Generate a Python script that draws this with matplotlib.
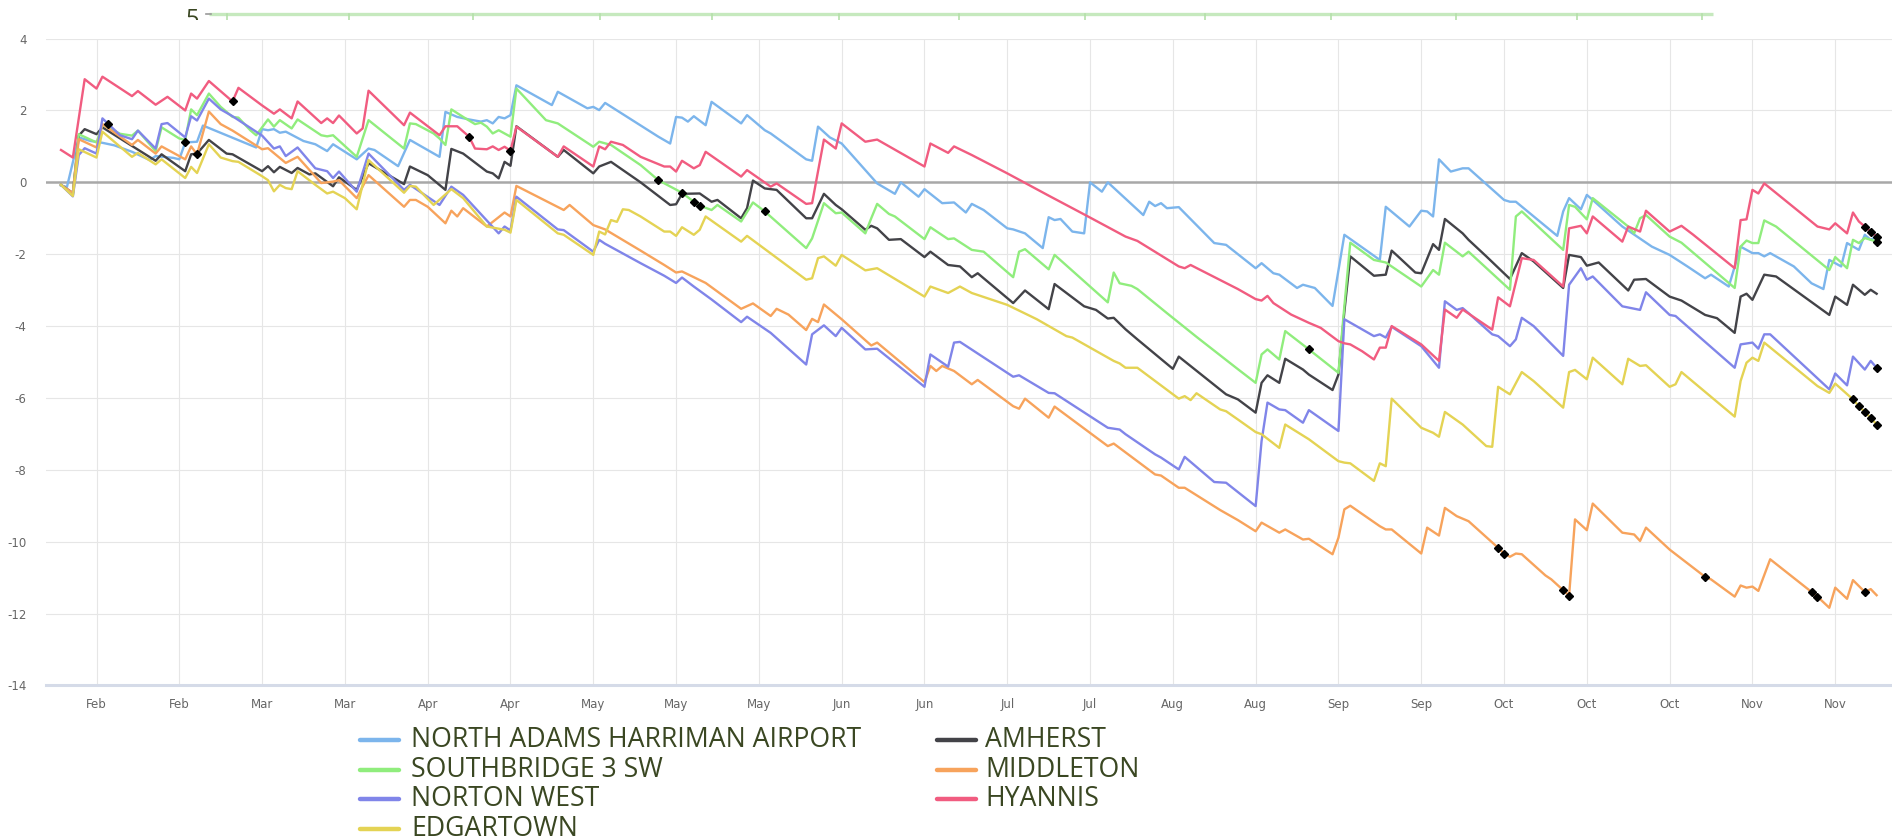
import numpy as np
import matplotlib
matplotlib.use('Agg')
import matplotlib.pyplot as plt
import matplotlib.dates as mdates
from matplotlib.lines import Line2D
import datetime as dt

# ---------------- data (day offset from 2022-02-01, value) ----------------
START = dt.datetime(2022, 2, 1)

series_names = ["NORTH ADAMS HARRIMAN AIRPORT", "AMHERST", "SOUTHBRIDGE 3 SW",
                "MIDDLETON", "NORTON WEST", "HYANNIS", "EDGARTOWN"]
series_colors = ["#7cb5ec", "#434348", "#90ed7d", "#f7a35c", "#8085e9", "#f15c80", "#e4d354"]

na_days = [0, 1, 3, 5, 7, 9, 12, 15, 16, 19, 20, 21, 23, 24, 28, 33, 34, 35, 36, 37, 38, 41, 43, 45, 46, 50, 52, 53, 57, 59,
           64, 65, 67, 69, 71, 72, 73, 74, 75, 76, 77, 83, 84, 89, 90, 91, 92, 101, 103, 104, 105, 106, 107, 109, 110, 115,
           116, 119, 120, 126, 127, 128, 130, 132, 138, 141, 142, 145, 146, 149, 151, 153, 154, 156, 160, 161, 163, 166, 167,
           168, 169, 171, 173, 174, 176, 177, 183, 184, 185, 186, 187, 189, 195, 197, 199, 202, 203, 205, 206, 209, 210, 212,
           215, 217, 223, 224, 228, 230, 231, 232, 233, 235, 237, 238, 244, 245, 246, 253, 254, 255, 257, 258, 259, 264, 269,
           272, 275, 278, 279, 282, 284, 286, 287, 288, 289, 293, 296, 298, 299, 300, 301, 302, 304, 305, 306, 307]
na_vals = [-0.09, -0.13, 1.25, 1.15, 1.1, 1.03, 0.85, 0.62, 0.73, 0.68, 0.64, 1.11, 1.13, 1.58, 1.31, 0.97, 1.48, 1.45,
           1.48, 1.38, 1.41, 1.15, 1.06, 0.87, 1.06, 0.64, 0.94, 0.9, 0.45, 1.18, 0.71, 1.96, 1.82, 1.75, 1.69, 1.73, 1.64,
           1.82, 1.78, 1.87, 2.7, 2.15, 2.52, 2.06, 2.1, 2.01, 2.21, 1.27, 1.08, 1.82, 1.8, 1.69, 1.84, 1.59, 2.24, 1.64,
           1.87, 1.45, 1.36, 0.64, 0.6, 1.55, 1.25, 1.08, -0.03, -0.32, 0.0, -0.4, -0.19, -0.58, -0.56, -0.84, -0.6, -0.77,
           -1.28, -1.31, -1.42, -1.83, -0.97, -1.05, -1.02, -1.37, -1.42, 0.0, -0.26, 0.0, -0.91, -0.54, -0.66, -0.58, -0.72,
           -0.69, -1.69, -1.74, -2.0, -2.39, -2.25, -2.53, -2.57, -2.94, -2.85, -2.94, -3.44, -1.46, -2.16, -0.68, -1.23,
           -0.79, -0.81, -0.95, 0.64, 0.3, 0.39, 0.39, -0.49, -0.54, -0.54, -1.49, -0.81, -0.44, -0.75, -0.35, -0.49, -1.23,
           -1.79, -2.02, -2.34, -2.67, -2.57, -2.9, -1.79, -1.97, -1.97, -2.06, -1.97, -2.34, -2.81, -2.97, -2.16, -2.25,
           -2.34, -1.69, -1.88, -1.46, -1.6, -1.5]

am_days = [0, 2, 3, 4, 6, 7, 16, 17, 21, 22, 23, 25, 28, 29, 34, 35, 36, 37, 39, 40, 42, 43, 46, 47, 50, 52, 58, 59, 62, 65,
           66, 68, 72, 73, 74, 75, 76, 77, 84, 85, 90, 91, 93, 98, 103, 104, 105, 108, 110, 111, 115, 116, 117, 119, 121,
           126, 127, 129, 131, 132, 136, 137, 138, 140, 142, 146, 147, 150, 152, 154, 155, 161, 163, 167, 168, 173, 175, 177,
           178, 180, 182, 188, 189, 197, 199, 202, 203, 204, 206, 207, 210, 211, 215, 216, 217, 218, 222, 224, 225, 226, 229,
           230, 232, 233, 234, 237, 238, 241, 245, 247, 249, 254, 255, 257, 258, 260, 265, 266, 268, 272, 274, 278, 280, 283,
           284, 285, 286, 288, 290, 299, 300, 302, 303, 305, 306, 307]
am_vals = [-0.07, -0.3, 1.3, 1.48, 1.34, 1.53, 0.6, 0.78, 0.31, 0.78, 0.8, 1.18, 0.8, 0.78, 0.31, 0.45, 0.28, 0.43, 0.26,
           0.4, 0.22, 0.25, -0.11, 0.14, -0.21, 0.53, -0.05, 0.44, 0.2, -0.21, 0.93, 0.8, 0.3, 0.25, 0.11, 0.57, 0.46, 1.56,
           0.71, 0.9, 0.25, 0.44, 0.57, 0.0, -0.63, -0.61, -0.32, -0.31, -0.54, -0.49, -1.0, -0.72, 0.05, -0.17, -0.21, -1.0,
           -1.0, -0.32, -0.63, -0.75, -1.32, -1.21, -1.28, -1.6, -1.58, -2.08, -1.93, -2.3, -2.34, -2.64, -2.53, -3.36, -3.01,
           -3.53, -2.83, -3.45, -3.55, -3.79, -3.77, -4.09, -4.37, -5.19, -4.85, -5.9, -6.04, -6.41, -5.58, -5.37, -5.58,
           -4.91, -5.21, -5.35, -5.78, -5.35, -3.6, -2.06, -2.6, -2.57, -1.9, -2.05, -2.51, -2.53, -1.72, -1.88, -1.02, -1.42,
           -1.6, -2.06, -2.69, -1.97, -2.2, -2.94, -2.02, -2.08, -2.32, -2.23, -3.01, -2.71, -2.69, -3.18, -3.29, -3.69,
           -3.78, -4.19, -3.18, -3.1, -3.27, -2.57, -2.62, -3.69, -3.18, -3.41, -2.85, -3.13, -2.99, -3.1]

sb_days = [0, 2, 3, 6, 7, 10, 12, 13, 16, 17, 20, 21, 22, 23, 25, 27, 29, 30, 32, 33, 35, 36, 37, 39, 40, 42, 44, 45, 46, 47,
           50, 52, 58, 59, 60, 63, 64, 65, 66, 68, 70, 71, 72, 73, 74, 76, 77, 82, 84, 90, 91, 93, 98, 101, 105, 107, 108,
           110, 111, 115, 117, 119, 126, 127, 129, 131, 132, 136, 137, 138, 140, 141, 146, 147, 150, 151, 154, 156, 161, 162,
           163, 167, 168, 177, 178, 179, 181, 182, 187, 192, 199, 202, 203, 204, 206, 207, 211, 216, 217, 218, 222, 224, 230,
           232, 233, 234, 237, 238, 245, 246, 247, 254, 255, 256, 258, 259, 265, 266, 267, 268, 272, 274, 282, 283, 284, 285,
           286, 287, 288, 290, 299, 300, 301, 302, 303, 304, 305, 307]
sb_vals = [-0.07, -0.35, 1.34, 1.11, 1.6, 1.35, 1.3, 1.44, 0.87, 1.53, 1.22, 1.18, 2.03, 1.87, 2.47, 2.1, 1.82, 1.8, 1.45,
           1.31, 1.75, 1.55, 1.73, 1.5, 1.75, 1.53, 1.31, 1.28, 1.31, 1.16, 0.71, 1.73, 0.94, 1.64, 1.62, 1.36, 1.22, 1.04,
           2.03, 1.82, 1.62, 1.66, 1.55, 1.36, 1.45, 1.27, 2.61, 1.73, 1.64, 0.99, 1.13, 1.04, 0.48, 0.06, -0.29, -0.54,
           -0.65, -0.77, -0.63, -1.09, -0.56, -0.81, -1.83, -1.56, -0.58, -0.86, -0.84, -1.42, -1.0, -0.6, -0.88, -0.95,
           -1.58, -1.25, -1.58, -1.56, -1.88, -1.93, -2.64, -1.93, -1.86, -2.42, -2.02, -3.34, -2.51, -2.81, -2.88, -2.97,
           -3.64, -4.3, -5.2, -5.58, -4.79, -4.65, -4.93, -4.14, -4.65, -5.3, -3.45, -1.68, -2.16, -2.23, -2.9, -2.44, -2.57,
           -1.68, -2.06, -1.93, -2.99, -0.95, -0.81, -1.88, -0.63, -0.68, -1.03, -0.44, -1.23, -1.42, -1.0, -0.91, -1.51,
           -1.68, -2.8, -2.94, -1.79, -1.62, -1.69, -1.69, -1.06, -1.23, -2.44, -2.08, -2.23, -2.39, -1.6, -1.69, -1.55,
           -1.65]

mi_days = [0, 2, 3, 6, 7, 12, 13, 16, 17, 21, 22, 23, 25, 27, 29, 34, 35, 38, 40, 44, 46, 47, 50, 52, 58, 59, 60, 62, 65,
           66, 67, 68, 72, 75, 76, 77, 85, 86, 90, 91, 92, 98, 102, 104, 105, 109, 115, 117, 120, 121, 123, 126, 127, 128,
           129, 132, 137, 138, 146, 147, 148, 149, 151, 154, 155, 161, 162, 163, 167, 168, 177, 178, 185, 186, 189, 190, 196,
           199, 202, 203, 206, 207, 210, 211, 215, 216, 217, 218, 223, 224, 225, 230, 231, 233, 234, 236, 238, 243, 244, 245,
           246, 247, 251, 252, 254, 255, 256, 258, 259, 264, 266, 267, 268, 272, 278, 279, 283, 284, 285, 286, 287, 289, 296,
           297, 299, 300, 302, 303, 305, 306, 307]
mi_vals = [-0.07, -0.3, 1.2, 0.97, 1.62, 1.04, 1.18, 0.8, 1.0, 0.64, 1.0, 0.78, 1.97, 1.62, 1.44, 0.92, 0.95, 0.54, 0.71,
           -0.02, 0.02, 0.06, -0.44, 0.2, -0.68, -0.49, -0.49, -0.68, -1.14, -0.79, -0.95, -0.72, -1.23, -0.84, -0.95, -0.1,
           -0.77, -0.63, -1.19, -1.25, -1.31, -1.9, -2.3, -2.51, -2.48, -2.8, -3.52, -3.37, -3.72, -3.52, -3.68, -4.11, -3.8,
           -3.89, -3.4, -3.81, -4.54, -4.46, -5.56, -5.11, -5.25, -5.11, -5.25, -5.62, -5.5, -6.23, -6.3, -6.02, -6.55, -6.24,
           -7.34, -7.27, -8.13, -8.16, -8.5, -8.5, -9.12, -9.4, -9.71, -9.47, -9.75, -9.66, -9.94, -9.92, -10.35, -9.89,
           -9.1, -9.0, -9.57, -9.66, -9.66, -10.33, -9.61, -9.83, -9.06, -9.29, -9.43, -10.17, -10.33, -10.42, -10.33,
           -10.35, -10.94, -11.05, -11.35, -11.5, -9.38, -9.68, -8.94, -9.75, -9.8, -9.98, -9.61, -10.22, -10.98, -11.05,
           -11.53, -11.22, -11.28, -11.25, -11.37, -10.49, -11.4, -11.53, -11.84, -11.28, -11.59, -11.07, -11.4, -11.32,
           -11.49]

nw_days = [0, 2, 3, 4, 6, 7, 10, 12, 13, 16, 17, 18, 21, 22, 23, 25, 27, 29, 34, 36, 37, 38, 40, 43, 45, 46, 47, 50, 52,
           58, 59, 64, 66, 68, 74, 75, 76, 77, 84, 85, 90, 91, 92, 98, 102, 104, 105, 107, 110, 115, 116, 120, 126, 127, 129,
           131, 132, 136, 138, 146, 147, 150, 151, 152, 161, 162, 167, 168, 177, 179, 180, 185, 186, 189, 190, 195, 197, 199,
           202, 203, 204, 206, 207, 210, 211, 216, 217, 222, 223, 224, 225, 230, 233, 234, 236, 237, 238, 242, 243, 245, 246,
           247, 249, 254, 255, 257, 258, 259, 264, 267, 268, 272, 273, 283, 284, 286, 287, 288, 289, 299, 300, 302, 303, 305,
           306, 307]
nw_vals = [-0.07, -0.39, 0.76, 0.95, 0.8, 1.78, 1.31, 1.2, 1.44, 0.94, 1.62, 1.65, 1.25, 1.84, 1.72, 2.33, 2.03, 1.84, 1.3,
           0.94, 1.0, 0.73, 0.97, 0.39, 0.31, 0.12, 0.3, -0.26, 0.8, -0.21, -0.07, -0.63, -0.12, -0.35, -1.42, -1.23, -1.34,
           -0.4, -1.31, -1.33, -1.93, -1.6, -1.71, -2.25, -2.6, -2.8, -2.65, -2.9, -3.26, -3.89, -3.74, -4.19, -5.07, -4.23,
           -3.98, -4.28, -4.05, -4.65, -4.63, -5.69, -4.79, -5.13, -4.46, -4.44, -5.41, -5.37, -5.86, -5.87, -6.83, -6.88,
           -7.01, -7.57, -7.66, -7.99, -7.64, -8.34, -8.36, -8.62, -9.01, -7.2, -6.13, -6.32, -6.34, -6.69, -6.34, -6.92,
           -3.81, -4.28, -4.23, -4.32, -4.02, -4.56, -5.16, -3.31, -3.55, -3.5, -3.64, -4.23, -4.28, -4.56, -4.37, -3.77,
           -4.0, -4.83, -2.85, -2.39, -2.71, -2.62, -3.45, -3.55, -3.06, -3.69, -3.72, -5.16, -4.51, -4.46, -4.63, -4.23,
           -4.23, -5.76, -5.32, -5.65, -4.85, -5.21, -4.97, -5.16]

hy_days = [0, 2, 4, 6, 7, 12, 13, 16, 18, 21, 22, 23, 25, 29, 30, 34, 36, 37, 39, 40, 44, 45, 46, 47, 50, 51, 52, 58, 59,
           64, 65, 67, 69, 70, 72, 73, 74, 75, 76, 77, 84, 85, 90, 91, 92, 93, 95, 98, 102, 103, 104, 105, 107, 108, 109, 115,
           116, 120, 121, 126, 127, 129, 131, 132, 136, 138, 146, 147, 150, 151, 154, 160, 167, 174, 180, 182, 189, 190, 191,
           199, 202, 203, 204, 205, 208, 211, 213, 216, 217, 218, 220, 222, 223, 224, 225, 230, 233, 234, 236, 237, 242, 243,
           245, 247, 249, 254, 255, 257, 258, 259, 260, 264, 265, 267, 268, 272, 274, 276, 283, 284, 285, 286, 287, 288, 297,
           299, 300, 302, 303, 304, 307]
hy_vals = [0.9, 0.69, 2.87, 2.61, 2.94, 2.4, 2.54, 2.16, 2.38, 2.0, 2.47, 2.33, 2.82, 2.25, 2.63, 2.14, 1.91, 2.03, 1.78,
           2.25, 1.65, 1.78, 1.65, 1.86, 1.36, 1.5, 2.55, 1.59, 1.94, 1.31, 1.56, 1.56, 1.27, 0.94, 0.92, 1.0, 0.9, 0.99,
           0.88, 1.55, 0.71, 1.0, 0.44, 1.0, 0.92, 1.13, 1.04, 0.71, 0.44, 0.44, 0.3, 0.6, 0.39, 0.48, 0.85, 0.16, 0.34,
           -0.12, -0.03, -0.6, -0.58, 1.19, 0.94, 1.64, 1.13, 1.19, 0.44, 1.08, 0.82, 1.0, 0.76, 0.25, -0.37, -0.98, -1.51,
           -1.63, -2.34, -2.39, -2.3, -2.97, -3.25, -3.29, -3.16, -3.36, -3.68, -3.91, -4.05, -4.42, -4.48, -4.51, -4.7,
           -4.93, -4.6, -4.6, -4.0, -4.51, -4.97, -3.54, -3.77, -3.54, -4.1, -3.2, -3.45, -2.11, -2.16, -2.9, -1.28, -1.21,
           -1.42, -0.95, -1.09, -1.65, -1.23, -1.37, -0.79, -1.37, -1.21, -1.46, -2.39, -1.05, -1.03, -0.21, -0.31, -0.03,
           -1.23, -1.31, -1.14, -1.42, -0.84, -1.09, -1.51]

ed_days = [0, 2, 3, 6, 7, 12, 13, 16, 17, 21, 22, 23, 25, 27, 29, 30, 34, 35, 36, 37, 38, 39, 40, 43, 45, 46, 48, 50, 52,
           58, 59, 60, 63, 66, 68, 72, 75, 76, 77, 84, 85, 90, 91, 92, 93, 94, 95, 96, 98, 102, 103, 104, 105, 107, 108, 109,
           115, 116, 126, 127, 128, 129, 131, 132, 136, 138, 146, 147, 150, 152, 154, 160, 165, 170, 171, 178, 179, 180, 182,
           189, 190, 191, 192, 196, 197, 199, 202, 203, 206, 207, 211, 216, 217, 218, 222, 223, 224, 225, 230, 232, 233, 234,
           237, 241, 242, 243, 245, 247, 249, 254, 255, 256, 258, 259, 264, 265, 267, 268, 272, 273, 274, 283, 284, 285, 286,
           287, 288, 297, 299, 300, 303, 304, 305, 306, 307]
ed_vals = [-0.07, -0.38, 0.92, 0.69, 1.41, 0.71, 0.82, 0.5, 0.64, 0.12, 0.43, 0.26, 1.06, 0.69, 0.59, 0.57, 0.17, 0.06,
           -0.25, -0.07, -0.16, -0.19, 0.31, -0.07, -0.31, -0.26, -0.44, -0.75, 0.62, -0.29, -0.1, -0.12, -0.63, -0.19,
           -0.44, -1.23, -1.32, -1.4, -0.49, -1.42, -1.46, -2.02, -1.37, -1.45, -1.05, -1.1, -0.75, -0.77, -0.95, -1.37,
           -1.37, -1.49, -1.25, -1.46, -1.32, -0.95, -1.65, -1.49, -2.71, -2.67, -2.11, -2.06, -2.32, -2.02, -2.45, -2.39,
           -3.18, -2.9, -3.08, -2.9, -3.08, -3.41, -3.81, -4.28, -4.32, -4.97, -5.04, -5.16, -5.16, -6.02, -5.95, -6.06,
           -5.87, -6.32, -6.37, -6.6, -6.95, -7.01, -7.39, -6.74, -7.15, -7.76, -7.8, -7.82, -8.31, -7.82, -7.9, -6.02,
           -6.83, -6.97, -7.08, -6.39, -6.74, -7.34, -7.36, -5.69, -5.9, -5.28, -5.53, -6.27, -5.28, -5.22, -5.48, -4.88,
           -5.62, -4.91, -5.11, -5.09, -5.69, -5.62, -5.28, -6.52, -5.53, -5.02, -4.88, -4.97, -4.46, -5.67, -5.86, -5.6,
           -6.04, -6.23, -6.39, -6.55, -6.74]

# days flagged with black markers, per series index
marker_days = {
    0: [21],
    1: [23],
    2: [101, 105, 107, 108, 119, 211, 307],
    3: [243, 244, 254, 255, 278, 296, 297, 305],
    4: [8, 307],
    5: [29, 69, 76, 305, 306, 307],
    6: [303, 304, 305, 306, 307],
}

series_days = [na_days, am_days, sb_days, mi_days, nw_days, hy_days, ed_days]
series_vals = [na_vals, am_vals, sb_vals, mi_vals, nw_vals, hy_vals, ed_vals]

y_ticks = [4, 2, 0, -2, -4, -6, -8, -10, -12, -14]

# ---------------- figure ----------------
W, H = 1892, 839
fig = plt.figure(figsize=(W / 100, H / 100), dpi=100)
ax_l, ax_r, ax_t, ax_b = 46, 1892, 38.6, 685.4
ax = fig.add_axes([ax_l / W, 1 - ax_b / H, (ax_r - ax_l) / W, (ax_b - ax_t) / H])

base = mdates.date2num(START)

for d, v, c in zip(series_days, series_vals, series_colors):
    ax.plot(base + np.array(d, float), v, color=c, lw=1.7, solid_joinstyle='round', zorder=3)

for i, days in marker_days.items():
    dd = np.array(days, float)
    yy = np.interp(dd, series_days[i], series_vals[i])
    ax.plot(base + dd, yy, linestyle='none', marker='D', ms=4.2, color='black', zorder=5)

ax.axhline(0, color='#a8a8a8', lw=1.8, zorder=2)

ax.set_ylim(-14, 4)
ax.set_xlim(base - 2.54, base + 309.6)
ax.set_yticks(y_ticks)
ax.set_yticklabels([str(t) for t in y_ticks])
xt = [base + 6 + 14 * k for k in range(22)]
ax.set_xticks(xt)
ax.xaxis.set_major_formatter(mdates.DateFormatter('%b'))

ax.grid(True, color='#e6e6e6', lw=0.8, zorder=0)
ax.set_axisbelow(True)
for s in ['top', 'right', 'left']:
    ax.spines[s].set_visible(False)
ax.spines['bottom'].set_color('#d5dbe8')
ax.spines['bottom'].set_linewidth(2.2)
ax.tick_params(axis='both', length=0, colors='#666666', labelsize=8.5)
ax.tick_params(axis='y', pad=14)
ax.tick_params(axis='x', pad=9)
for lab in ax.get_xticklabels() + ax.get_yticklabels():
    lab.set_family(['Liberation Sans Narrow', 'DejaVu Sans'])

# ---------------- legend (manual) ----------------
legend_color = '#3a4722'
col_sym_x = [(360, 399), (937, 976)]
col_txt_x = [411, 985]
row_y = [740, 770, 798.5, 828.5]
order = [(0, 0, 0), (2, 0, 1), (4, 0, 2), (6, 0, 3), (1, 1, 0), (3, 1, 1), (5, 1, 2)]
for idx, col, row in order:
    y = 1 - row_y[row] / H
    x0, x1 = col_sym_x[col]
    fig.add_artist(Line2D([x0 / W, x1 / W], [y, y], color=series_colors[idx], lw=3.2,
                          solid_capstyle='round', transform=fig.transFigure))
    fig.text(col_txt_x[col] / W, y, series_names[idx], color=legend_color, fontsize=19.2,
             family=['Open Sans', 'DejaVu Sans'], va='center', ha='left')

# ---------------- cut-off strip of the chart above ----------------
strip = fig.add_axes([0, 1 - 20 / H, 1, 20 / H])
strip.set_xlim(0, W)
strip.set_ylim(20, 0)
strip.axis('off')
strip.plot([209, 1713], [14, 14], color='#c6e9be', lw=2.4, solid_capstyle='butt')
strip.plot([206, 211], [14, 14], color='#999999', lw=1.2)
for tx in [227, 349, 473, 600, 712, 839, 959, 1085, 1205, 1331, 1456, 1577, 1702]:
    strip.plot([tx, tx], [14, 21], color='#b5e0aa', lw=1.2)
strip.text(192, 7.5, '5', color=legend_color, fontsize=17, family=['Open Sans', 'DejaVu Sans'],
           ha='center', va='top', clip_on=True)

fig.savefig('out.png', dpi=100)
